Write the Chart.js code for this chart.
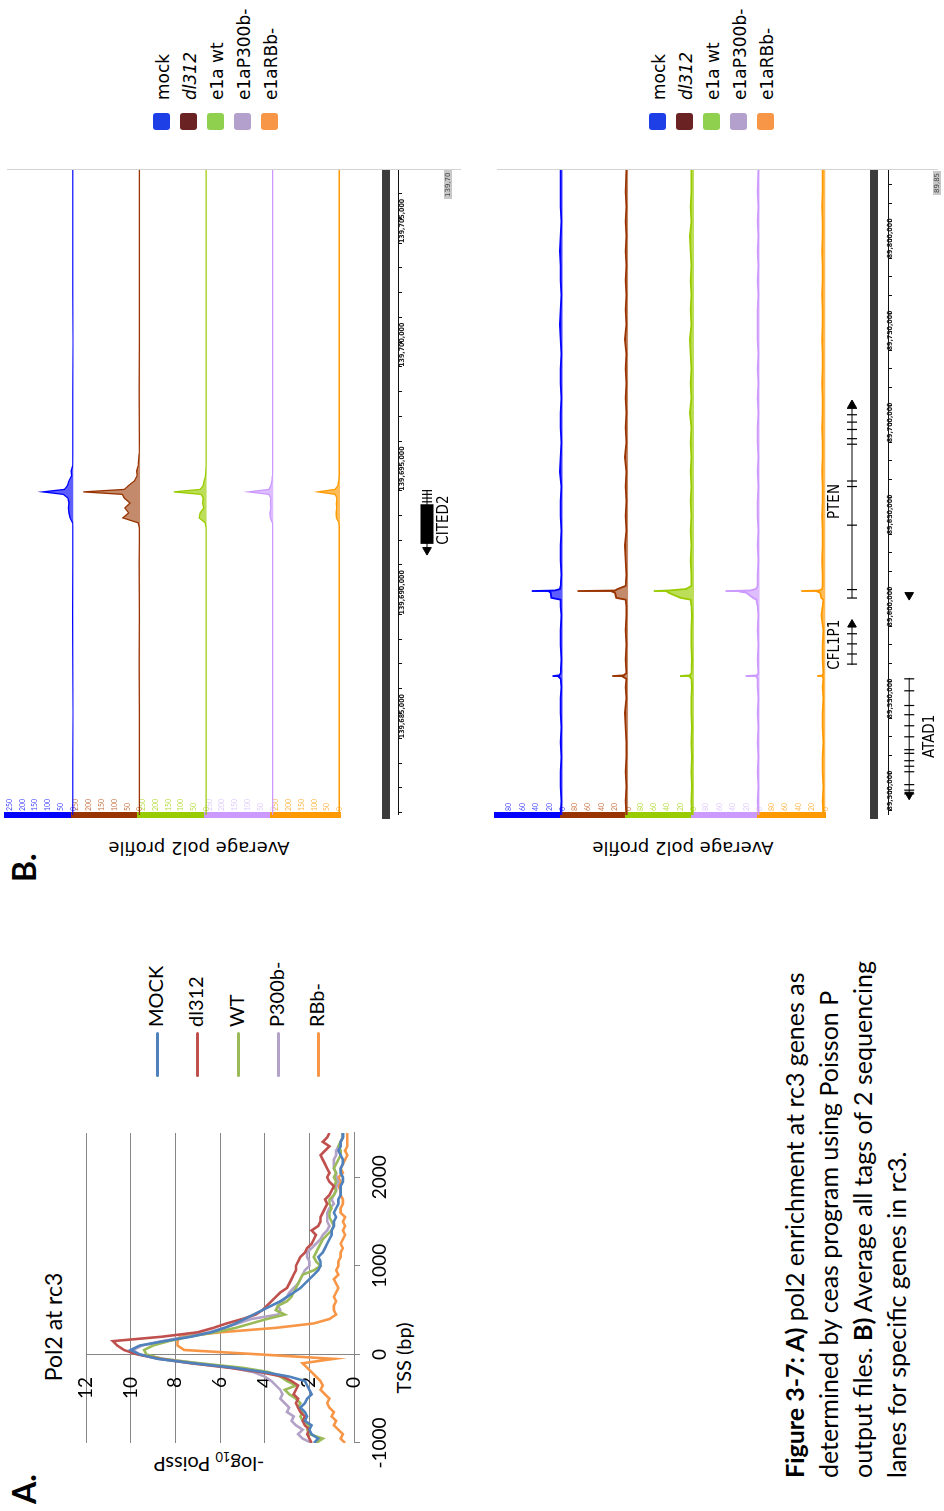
<!DOCTYPE html>
<html>
<head>
<meta charset="utf-8">
<title>Figure 3-7</title>
<script src="https://cdn.jsdelivr.net/npm/chart.js@4.4.1/dist/chart.umd.min.js"></script>
<style>
  html, body { margin: 0; padding: 0; background: #fff; }
  body { width: 944px; height: 1511px; overflow: hidden; position: relative; }
  /* the figure is laid out in landscape and turned a quarter turn counter-clockwise */
  #page { position: absolute; left: 0; top: 0; width: 1511px; height: 944px;
          transform-origin: 0 0; transform: translate(0, 1511px) rotate(-90deg); background: #fff; }
  .abs { position: absolute; white-space: nowrap; color: #000; }
  .ctr { transform: translate(-50%, -50%); }
  .rot { transform: translate(-50%, -50%) rotate(-90deg); }
  .panel { font: bold 32px/32px Lato, sans-serif; }
  canvas { position: absolute; }
  #caption { left: 33px; top: 777px; font: 25px/34px Lato, sans-serif; }
  .alegend { position: absolute; left: 434px; font: 20px/24px Lato, sans-serif; }
  .alegend div { position: absolute; left: 0; height: 24px; white-space: nowrap; }
  .alegend .ln { display: inline-block; width: 45px; height: 0; vertical-align: middle; margin-right: 5px; border-radius: 2px; }
  .blegend { position: absolute; left: 1381px; font: 17px/17px "DejaVu Sans", sans-serif; }
  .blegend div { position: absolute; left: 0; height: 17px; white-space: nowrap; }
  .blegend .sw { display: inline-block; width: 17px; height: 17px; border-radius: 3px; vertical-align: top; margin-right: 13px; }
  .blegend .tx { position: relative; top: 2px; }
  .tag { font: 7px "DejaVu Sans", sans-serif; background: #c8c8c8; color: #444; padding: 0 2px; }
</style>
</head>
<body>
<div id="page">
  <div class="abs panel" style="left:7px;top:8px">A.</div>
  <div class="abs ctr" style="left:184px;top:53px;font:23px Lato, sans-serif">Pol2 at rc3</div>
  <div class="abs rot" style="left:48px;top:209px;font:20px Lato, sans-serif">-log<sub style="font-size:13px">10</sub> PoissP</div>
  <div class="abs ctr" style="left:153px;top:403px;font:20px Lato, sans-serif">TSS (bp)</div>
  <canvas id="chartA" width="380" height="440" style="left:0;top:0"></canvas>
  <div id="caption" class="abs"><b>Figure 3-7: A)</b> pol2 enrichment at rc3 genes as<br>determined by ceas program using Poisson P<br>output files. <b>B)</b> Average all tags of 2 sequencing<br>lanes for specific genes in rc3.</div>

  <div class="abs panel" style="left:629px;top:8px">B.</div>
  <div class="abs rot" style="left:663px;top:199px;font:18px 'DejaVu Sans', sans-serif">Average pol2 profile</div>
  <div class="abs rot" style="left:663px;top:683px;font:18px 'DejaVu Sans', sans-serif">Average pol2 profile</div>
  <canvas id="chartB1" width="740" height="470" style="left:620px;top:0"></canvas>
  <canvas id="chartB2" width="740" height="454" style="left:620px;top:490px"></canvas>
  <div class="abs tag" style="left:1312px;top:444px">139,70</div>
  <div class="abs tag" style="left:1316px;top:933px">89,85</div>
</div>
<script>
// ---------- A) Pol2 at rc3 : -log10 PoissP around the TSS ----------
const tssPos = [
  -1000, -950, -900, -850, -800, -750, -700, -650, -600, -550,
  -500, -450, -400, -350, -300, -250, -200, -150, -100, -50,
  0, 50, 100, 150, 200, 250, 300, 350, 400, 450,
  500, 550, 600, 650, 700, 750, 800, 850, 900, 950,
  1000, 1050, 1100, 1150, 1200, 1250, 1300, 1350, 1400, 1450,
  1500, 1550, 1600, 1650, 1700, 1750, 1800, 1850, 1900, 1950,
  2000, 2050, 2100, 2150, 2200, 2250, 2300, 2350, 2400, 2450,
  2500
];
const mockA = [
  1.8, 1.6, 1.9, 2.0, 1.9, 2.2, 2.1, 2.2, 2.4, 2.2,
  2.1, 1.9, 2.0, 2.1, 2.2, 2.9, 4.0, 5.4, 7.2, 8.8,
  9.6, 10.0, 9.6, 8.5, 7.3, 6.4, 5.8, 5.3, 4.9, 4.5,
  4.1, 3.7, 3.3, 3.0, 2.7, 2.4, 2.2, 2.0, 1.8, 1.6,
  1.5, 1.5, 1.6, 1.4, 1.3, 1.2, 1.1, 1.0, 1.0, 0.9,
  0.9, 0.8, 0.9, 0.8, 0.7, 0.7, 0.6, 0.6, 0.6, 0.5,
  0.5, 0.6, 0.6, 0.5, 0.5, 0.6, 0.7, 0.6, 0.6, 0.5,
  0.5
];
const dl312A = [
  1.9, 2.0, 2.1, 2.0, 2.2, 2.3, 2.2, 2.4, 2.5, 2.6,
  2.5, 2.7, 2.6, 2.5, 2.8, 3.2, 4.2, 5.6, 7.3, 8.7,
  9.7, 10.3, 10.6, 10.8, 8.6, 7.0, 6.3, 5.7, 5.0, 4.4,
  4.1, 3.9, 3.7, 3.5, 3.3, 3.0, 2.9, 2.8, 2.7, 2.6,
  2.6, 2.5, 2.4, 2.2, 2.1, 1.9, 1.8, 1.7, 1.9, 1.6,
  1.5, 1.5, 1.4, 1.3, 1.2, 1.3, 1.1, 1.0, 0.9, 1.1,
  1.2, 1.1, 1.2, 1.3, 1.4, 1.5, 1.3, 1.1, 1.4, 1.2,
  1.1
];
const wtA = [
  1.7, 1.4, 2.0, 2.1, 2.0, 2.3, 2.4, 2.3, 2.5, 2.4,
  2.6, 2.9, 3.1, 2.6, 3.0, 3.3, 3.8, 5.0, 6.9, 8.6,
  9.3, 9.4, 9.0, 8.3, 7.4, 6.2, 5.3, 4.6, 3.9, 3.1,
  3.5, 3.4, 3.0, 2.8, 2.7, 2.6, 2.5, 2.4, 2.3, 1.8,
  1.5, 1.7, 1.8, 1.7, 1.6, 1.5, 1.4, 1.2, 1.0, 0.9,
  1.0, 1.1, 1.1, 1.0, 1.1, 1.1, 0.9, 0.8, 0.9, 0.8,
  0.9, 0.8, 0.9, 0.8, 0.7, 0.6, 0.6, 0.7, 0.6, 0.5,
  0.5
];
const p300A = [
  1.9, 2.3, 2.5, 2.3, 2.6, 2.8, 2.7, 3.0, 2.9, 3.1,
  3.3, 3.2, 3.3, 3.5, 3.7, 4.0, 4.5, 5.5, 7.0, 8.5,
  9.6, 9.9, 9.5, 8.6, 7.5, 6.5, 5.8, 5.2, 4.6, 3.4,
  3.3, 3.4, 3.2, 3.0, 2.9, 2.7, 2.5, 2.4, 2.3, 2.2,
  2.0, 2.0, 2.1, 2.1, 1.9, 1.7, 1.5, 1.4, 1.2, 1.1,
  1.2, 1.2, 1.2, 1.1, 0.9, 1.0, 0.9, 0.8, 0.8, 0.7,
  0.8, 0.8, 0.9, 0.9, 0.9, 0.8, 0.8, 0.7, 0.6, 0.5,
  0.5
];
const rbA = [
  0.4, 0.6, 0.5, 0.7, 0.9, 0.8, 1.0, 0.9, 1.1, 1.2,
  1.1, 1.3, 1.5, 1.4, 1.5, 1.7, 1.9, 2.1, 2.3, 0.9,
  4.2, 7.6, 7.9, 7.9, 7.8, 6.0, 3.5, 1.8, 1.1, 0.8,
  0.9, 0.9, 0.8, 0.9, 0.8, 0.7, 0.8, 0.9, 0.7, 0.8,
  0.7, 0.7, 0.6, 0.6, 0.5, 0.6, 0.5, 0.4, 0.5, 0.4,
  0.5, 0.4, 0.6, 0.6, 0.5, 0.5, 0.6, 0.6, 0.7, 0.6,
  0.7, 0.5, 0.6, 0.5, 0.4, 0.3, 0.4, 0.3, 0.3, 0.3,
  0.3
];
const seriesNames = ['MOCK', 'dl312', 'WT', 'P300b-', 'RBb-'];
const seriesColors = ['#4f81bd', '#c0504d', '#9bbb59', '#b3a2c7', '#f79646'];
const xTicksA = [-1000, 0, 1000, 2000];
const yTicksA = [0, 2, 4, 6, 8, 10, 12];

// ---------- B) genome browser lanes (positions in kb) ----------
const laneNames = ['mock', 'dl312', 'e1a wt', 'e1aP300b-', 'e1aRBb-'];
const laneColors = ['#0000ff', '#993300', '#99cc00', '#cc99ff', '#ff9900'];
const laneFills = ['rgba(40,40,255,0.75)', 'rgba(170,90,45,0.7)', 'rgba(153,204,0,0.65)', 'rgba(204,153,255,0.65)', 'rgba(255,153,0,0.65)'];
const laneTickColors = ['#4d4dff', '#cc7a4d', '#b8dd44', '#e3ccff', '#ffb84d'];
const legendSwatches = ['#1f3fe6', '#6b2222', '#8fd14f', '#b4a0cc', '#f79646'];

// CITED2 window
const topPos = [
  139681.9, 139684, 139686, 139688, 139690, 139692, 139693, 139693.5, 139693.7, 139693.9,
  139694.1, 139694.3, 139694.5, 139694.7, 139694.85, 139694.95, 139695.05, 139695.2, 139695.4, 139695.6,
  139695.8, 139696, 139696.5, 139697, 139699, 139701, 139703, 139705, 139707, 139707.95
];
const topMock = [3, 3, 2, 3, 4, 3, 3, 3, 4, 14, 18, 20, 18, 22, 40, 120, 36, 24, 18, 8, 10, 4, 3, 3, 3, 2, 3, 3, 3, 3];
const topDl312 = [3, 3, 3, 4, 3, 4, 3, 3, 8, 68, 45, 60, 40, 62, 70, 222, 62, 46, 22, 12, 14, 8, 4, 3, 4, 3, 3, 3, 3, 3];
const topWt = [3, 3, 3, 3, 3, 3, 3, 3, 6, 30, 26, 12, 16, 14, 22, 129, 26, 14, 10, 5, 4, 3, 3, 3, 3, 3, 3, 3, 3, 3];
const topP300 = [3, 3, 3, 3, 3, 3, 3, 3, 4, 12, 14, 10, 12, 10, 18, 98, 18, 10, 6, 4, 3, 3, 3, 3, 3, 3, 3, 3, 3, 3];
const topRb = [3, 3, 3, 3, 3, 3, 3, 3, 4, 14, 15, 13, 14, 12, 18, 86, 20, 8, 5, 3, 3, 3, 3, 3, 3, 3, 3, 3, 3, 3];
const topRange = [139681.9, 139707.95];
const topCoordTicks = [139685, 139690, 139695, 139700, 139705];
const topLaneTicks = [0, 50, 100, 150, 200, 250];

// PTEN window
const botPos = [
  89497.5, 89505, 89513, 89521, 89529, 89537, 89545, 89553, 89561, 89567,
  89571.5, 89572.6, 89573, 89573.4, 89574.5, 89582, 89590, 89598, 89606, 89611,
  89614.5, 89615.5, 89618.3, 89618.9, 89619.2, 89619.5, 89620.3, 89622, 89628, 89636,
  89644, 89652, 89660, 89668, 89676, 89684, 89692, 89700, 89708, 89716,
  89724, 89732, 89740, 89748, 89756, 89764, 89772, 89780, 89788, 89796,
  89804, 89812, 89820, 89828, 89836, 89848
];
const botMock = [
  3, 2, 3, 3, 2, 3, 2, 3, 3, 2,
  3, 6, 15, 5, 3, 2, 3, 3, 2, 3,
  3, 17, 18, 20, 46, 12, 4, 3, 2, 3,
  3, 2, 3, 3, 2, 4, 3, 2, 3, 3,
  2, 3, 3, 2, 3, 4, 3, 2, 3, 3,
  4, 3, 2, 3, 3, 3
];
const botDl312 = [
  3, 4, 3, 4, 3, 3, 4, 5, 3, 4,
  3, 8, 24, 7, 3, 4, 3, 4, 3, 3,
  4, 18, 20, 24, 76, 20, 16, 4, 3, 4,
  5, 3, 4, 3, 4, 3, 5, 3, 4, 3,
  4, 3, 4, 3, 5, 3, 4, 3, 4, 3,
  4, 3, 4, 3, 4, 3
];
const botWt = [
  3, 4, 3, 4, 3, 4, 3, 4, 4, 3,
  4, 6, 21, 6, 4, 3, 4, 4, 3, 4,
  5, 20, 38, 40, 60, 38, 12, 4, 4, 5,
  4, 5, 4, 5, 4, 5, 4, 5, 4, 6,
  4, 5, 4, 5, 6, 4, 5, 4, 5, 4,
  5, 6, 4, 5, 4, 4
];
const botP300 = [
  2, 3, 2, 3, 2, 3, 2, 3, 2, 3,
  3, 5, 21, 4, 2, 3, 2, 3, 2, 3,
  5, 10, 20, 30, 51, 14, 6, 3, 3, 2,
  3, 2, 3, 3, 2, 3, 2, 3, 3, 2,
  3, 2, 3, 2, 3, 3, 3, 2, 3, 2,
  3, 2, 3, 2, 3, 2
];
const botRb = [
  3, 4, 3, 4, 4, 3, 4, 4, 3, 4,
  3, 4, 12, 4, 3, 4, 4, 3, 6, 4,
  3, 6, 8, 12, 36, 9, 5, 4, 4, 5,
  4, 4, 5, 4, 4, 5, 4, 4, 5, 4,
  4, 5, 4, 4, 5, 4, 4, 5, 4, 4,
  5, 4, 4, 5, 4, 4
];
const botRange = [89497.5, 89848];
const botCoordTicks = [89500, 89550, 89600, 89650, 89700, 89750, 89800];
const botLaneTicks = [0, 20, 40, 60, 80];

// gene models: name, start, end, strand, row, label row, exon ticks (kb)
const genesTop = [
  ['CITED2', 139692.6, 139695.02, -1, 87, 104, [139694.55, 139694.7, 139694.85, 139695.0]]
];
const cited2Block = [139692.85, 139694.45];
const genesBot = [
  ['CFL1P1', 89579, 89601, 1, 27, 10, [89579.5, 89585, 89590.5, 89596]],
  ['PTEN', 89615.4, 89720.3, 1, 27, 10, [89615.4, 89620, 89655, 89676, 89679, 89699, 89702, 89707, 89711, 89715, 89718.5]],
  ['ATAD1', 89508.5, 89572, -1, 85, 106, [89509, 89511, 89514, 89521, 89524, 89527, 89531, 89533, 89540, 89546, 89552, 89557, 89565, 89571.5]],
  ['', 89617, 89617, -1, 85, 0, []]
];

Chart.defaults.font.family = 'Lato, sans-serif';
Chart.defaults.color = '#000';
Chart.defaults.animation = false;
Chart.defaults.plugins.tooltip.enabled = false;

const chartA = new Chart(document.getElementById('chartA'), {
  type: 'line',
  data: {
    datasets: [mockA, dl312A, wtA, p300A, rbA].map((vals, i) => ({
      label: seriesNames[i],
      data: tssPos.map((x, j) => ({ x: x, y: vals[j] })),
      borderColor: seriesColors[i],
      backgroundColor: seriesColors[i],
      borderWidth: 2.6,
      pointRadius: 0,
      tension: 0
    }))
  },
  options: {
    responsive: false,
    layout: { padding: { left: 68, top: 86, right: 2, bottom: 46 } },
    plugins: { legend: { display: false } },
    scales: {
      x: {
        type: 'linear', min: -1000, max: 2500,
        afterBuildTicks: s => { s.ticks = xTicksA.map(v => ({ value: v })); },
        afterFit: s => { s.height = 40; },
        ticks: { font: { size: 19 }, padding: 8, maxRotation: 0, color: '#000', callback: v => String(v) },
        grid: { color: c => (c.tick && c.tick.value === 0 ? '#868686' : 'rgba(0,0,0,0)'), tickColor: '#868686', tickLength: 6 },
        border: { color: '#868686' }
      },
      y: {
        // labels sit just left of the TSS line; the line itself is the x grid line at 0
        position: { x: -255 }, min: 0, max: 12,
        afterBuildTicks: s => { s.ticks = yTicksA.map(v => ({ value: v })); },
        ticks: { font: { size: 19 }, color: '#000' },
        grid: { color: '#868686', drawTicks: false },
        border: { display: false }
      }
    }
  }
});

// legend of panel A, built from the chart's own legend items
(function () {
  const box = document.createElement('div');
  box.className = 'alegend';
  box.style.top = '143px';
  Chart.defaults.plugins.legend.labels.generateLabels(chartA).forEach((item, i) => {
    const row = document.createElement('div');
    row.style.top = Math.round(i * 40.25) + 'px';
    row.innerHTML = '<span class="ln" style="border-top:3px solid ' + item.strokeStyle + '"></span>' + item.text;
    box.appendChild(row);
  });
  document.getElementById('page').appendChild(box);
})();

function geneLabelPlugin(genes) {
  return {
    id: 'geneLabels',
    afterDatasetsDraw(chart) {
      const ctx = chart.ctx, xs = chart.scales.x, ann = chart.scales.ann;
      ctx.save();
      ctx.font = '15px "Liberation Sans Narrow", "DejaVu Sans Condensed", sans-serif';
      ctx.fillStyle = '#000';
      ctx.textAlign = 'center';
      ctx.textBaseline = 'middle';
      genes.forEach(g => {
        if (g[0]) ctx.fillText(g[0], xs.getPixelForValue((g[1] + g[2]) / 2), ann.getPixelForValue(g[5]));
      });
      ctx.restore();
    }
  };
}

function geneDatasets(genes) {
  const out = [];
  genes.forEach(g => {
    const start = g[1], end = g[2], strand = g[3], row = g[4], exons = g[6];
    out.push({ yAxisID: 'ann', data: [{ x: start, y: row }, { x: end, y: row }],
      borderColor: '#000', borderWidth: 1, pointRadius: 0, fill: false });
    out.push({ yAxisID: 'ann', data: exons.map(x => ({ x: x, y: row })), showLine: false,
      pointStyle: 'line', pointRotation: 90, pointRadius: 5, pointBorderColor: '#000', pointBorderWidth: 1.2, fill: false });
    out.push({ yAxisID: 'ann', data: [{ x: strand > 0 ? end : start, y: row }], showLine: false,
      pointStyle: 'triangle', pointRotation: strand > 0 ? 90 : -90, pointRadius: 5,
      pointBackgroundColor: '#000', pointBorderColor: '#000', fill: false });
  });
  return out;
}

function laneChart(id, pos, lanes, range, coordTicks, minorStep, laneTicks, laneMax, annMax, barRow, lineRow, genes, extra, padBottom, lineW) {
  const scales = {
    x: {
      type: 'linear', min: range[0], max: range[1], position: { ann: barRow },
      afterBuildTicks: s => { s.ticks = coordTicks.map(v => ({ value: v })); },
      ticks: { align: 'start', padding: 4, autoSkip: false, maxRotation: 0, color: '#222',
               font: { size: 7, weight: 'bold', family: '"Liberation Sans Narrow", "DejaVu Sans Condensed", sans-serif' },
               callback: v => Math.round(v * 1000).toLocaleString('en-US') },
      grid: { display: false },
      border: { color: '#3b3b3b', width: 8 }
    },
    x2: {
      type: 'linear', axis: 'x', min: range[0], max: range[1], position: { ann: lineRow },
      ticks: { display: false, stepSize: minorStep, includeBounds: false },
      grid: { drawOnChartArea: false, tickLength: 3, color: '#111' },
      border: { color: '#111', width: 1 }
    },
    edge: {
      axis: 'y', position: 'right',
      afterFit: s => { s.width = 0; },
      ticks: { display: false }, grid: { display: false }, border: { color: '#d4d4d4', width: 1 }
    }
  };
  laneNames.forEach((n, i) => {
    scales['t' + i] = {
      axis: 'y', type: 'linear', position: 'left', stack: 'lanes', stackWeight: 1, weight: 10 - i,
      min: 0, max: laneMax,
      afterBuildTicks: s => { s.ticks = laneTicks.map(v => ({ value: v })); },
      afterFit: s => { s.width = 0; s.paddingTop = 0; s.paddingBottom = 0; },
      ticks: { mirror: true, padding: 4, autoSkip: false, color: laneTickColors[i], font: { size: 7 } },
      grid: { display: false },
      border: { color: laneColors[i], width: 6 }
    };
  });
  scales.ann = {
    axis: 'y', type: 'linear', position: 'left', stack: 'lanes', stackWeight: annMax / 66.6, weight: 1,
    min: 0, max: annMax, reverse: true,
    afterFit: s => { s.width = 0; s.paddingTop = 0; s.paddingBottom = 0; },
    ticks: { display: false }, grid: { display: false }, border: { display: false }
  };
  const datasets = lanes.map((vals, i) => ({
    label: laneNames[i],
    yAxisID: 't' + i,
    data: pos.map((x, j) => ({ x: x, y: vals[j] })),
    borderColor: laneColors[i],
    backgroundColor: laneFills[i],
    fill: 'origin',
    borderWidth: lineW,
    pointRadius: 0,
    tension: 0
  })).concat(geneDatasets(genes)).concat(extra);
  return new Chart(document.getElementById(id), {
    type: 'line',
    data: { datasets: datasets },
    options: {
      responsive: false,
      layout: { padding: { left: 76, right: 19, top: 7, bottom: padBottom } },
      plugins: { legend: { display: false } },
      scales: scales
    },
    plugins: [geneLabelPlugin(genes)]
  });
}

laneChart('chartB1', topPos, [topMock, topDl312, topWt, topP300, topRb], topRange, topCoordTicks, 1,
  topLaneTicks, 260, 120, 46, 58, genesTop,
  [{ yAxisID: 'ann', data: [{ x: cited2Block[0], y: 87 }, { x: cited2Block[1], y: 87 }],
     borderColor: '#000', borderWidth: 13, borderCapStyle: 'butt', pointRadius: 0, fill: false }], 10, 1.3);

laneChart('chartB2', botPos, [botMock, botDl312, botWt, botP300, botRb], botRange, botCoordTicks, 10,
  botLaneTicks, 98, 114, 49, 64, genesBot, [], 0, 1.8);

// legends of panel B (HTML, one per browser view)
function laneLegend(top) {
  const box = document.createElement('div');
  box.className = 'blegend';
  box.style.top = top + 'px';
  laneNames.forEach((n, i) => {
    const row = document.createElement('div');
    row.style.top = (i * 27) + 'px';
    row.innerHTML = '<span class="sw" style="background:' + legendSwatches[i] + '"></span>' +
      '<span class="tx" style="font-style:' + (i === 1 ? 'italic' : 'normal') + '">' + n + '</span>';
    box.appendChild(row);
  });
  document.getElementById('page').appendChild(box);
}
laneLegend(153);
laneLegend(649);
</script>
</body>
</html>
